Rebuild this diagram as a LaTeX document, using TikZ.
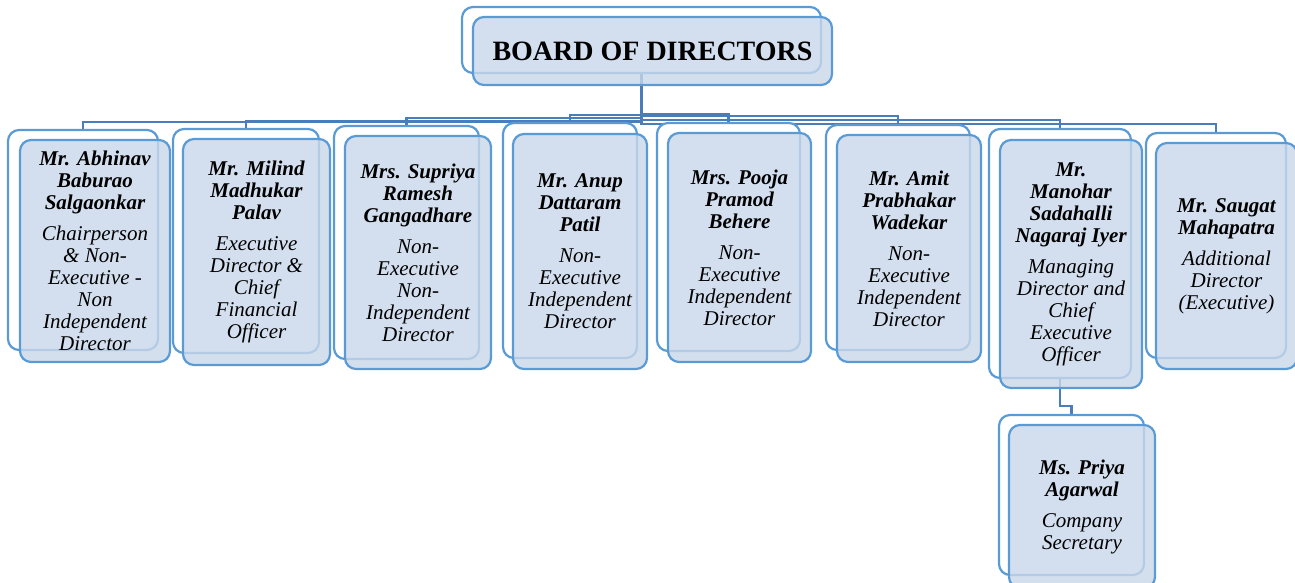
\documentclass[tikz,border=0pt]{standalone}
\usepackage{fontspec}
\setmainfont{Liberation Serif}
\usetikzlibrary{backgrounds}
\definecolor{boxline}{HTML}{5B9BD5}
\definecolor{boxfill}{HTML}{C9D7EA}
\definecolor{linkcol}{HTML}{4A7EBB}
\newcommand{\nm}[1]{\textbf{#1}}

\begin{document}
\begin{tikzpicture}[x=1pt,y=-1pt,
    back node/.style={rectangle,rounded corners=11pt,draw=boxline,fill=white,line width=2.2pt,inner sep=0pt},
    main node/.style={rectangle,rounded corners=11pt,draw=boxline,fill=boxfill,fill opacity=0.8,text opacity=1,line width=2.2pt,inner sep=0pt,align=center,font=\itshape\fontsize{21}{22}\selectfont},
    link/.style={draw=linkcol,line width=2.2pt}]
  \clip (0,0) rectangle (1295,583);

  % board
  \node[back node,minimum width=359,minimum height=66] (rb) at (641.5,40) {};
  \node[main node,minimum width=359,minimum height=68,font=\bfseries\fontsize{28}{30}\selectfont] (r) at (652.5,51) {BOARD OF DIRECTORS};

  % directors
  \node[back node,minimum width=150,minimum height=220] (b1) at (83,240) {};
  \node[main node,minimum width=150,minimum height=222] (m1) at (95,251)
    {\nm{Mr. Abhinav}\\\nm{Baburao}\\\nm{Salgaonkar}\\[9pt]Chairperson\\\& Non-\\Executive -\\Non\\Independent\\Director};

  \node[back node,minimum width=146,minimum height=224] (b2) at (246,241) {};
  \node[main node,minimum width=147,minimum height=226] (m2) at (256.5,252)
    {\nm{Mr. Milind}\\\nm{Madhukar}\\\nm{Palav}\\[9pt]Executive\\Director \&\\Chief\\Financial\\Officer};

  \node[back node,minimum width=145,minimum height=233] (b3) at (406.5,242.5) {};
  \node[main node,minimum width=146,minimum height=233] (m3) at (418,252.5)
    {\nm{Mrs. Supriya}\\\nm{Ramesh}\\\nm{Gangadhare}\\[9pt]Non-\\Executive\\Non-\\Independent\\Director};

  \node[back node,minimum width=134,minimum height=235] (b4) at (570,240.5) {};
  \node[main node,minimum width=134,minimum height=235] (m4) at (580,251.5)
    {\nm{Mr. Anup}\\\nm{Dattaram}\\\nm{Patil}\\[9pt]Non-\\Executive\\Independent\\Director};

  \node[back node,minimum width=143,minimum height=228] (b5) at (728.5,237) {};
  \node[main node,minimum width=143,minimum height=229] (m5) at (739.5,247.5)
    {\nm{Mrs. Pooja}\\\nm{Pramod}\\\nm{Behere}\\[9pt]Non-\\Executive\\Independent\\Director};

  \node[back node,minimum width=144,minimum height=225] (b6) at (898,237.5) {};
  \node[main node,minimum width=144,minimum height=227] (m6) at (909,248.5)
    {\nm{Mr. Amit}\\\nm{Prabhakar}\\\nm{Wadekar}\\[9pt]Non-\\Executive\\Independent\\Director};

  \node[back node,minimum width=142,minimum height=249] (b7) at (1060,253.5) {};
  \node[main node,minimum width=142,minimum height=248] (m7) at (1071,264)
    {\nm{Mr.}\\\nm{Manohar}\\\nm{Sadahalli}\\\nm{Nagaraj Iyer}\\[9pt]Managing\\Director and\\Chief\\Executive\\Officer};

  \node[back node,minimum width=140,minimum height=225] (b8) at (1216,245.5) {};
  \node[main node,minimum width=141,minimum height=226] (m8) at (1226.5,256)
    {\nm{Mr. Saugat}\\\nm{Mahapatra}\\[9pt]Additional\\Director\\(Executive)};

  % secretary under the MD
  \node[back node,minimum width=145,minimum height=160] (b9) at (1071.5,495) {};
  \node[main node,minimum width=146,minimum height=163] (m9) at (1082,506.5)
    {\nm{Ms. Priya}\\\nm{Agarwal}\\[9pt]Company\\Secretary};

  % elbow connectors, kept behind the boxes
  \begin{scope}[on background layer]
    \draw[link] (rb.south) -- ++(0,48) -| (b1.north);
    \draw[link] (rb.south) -- ++(0,47) -| (b2.north);
    \draw[link] (rb.south) -- ++(0,44) -| (b3.north);
    \draw[link] (rb.south) -- ++(0,41) -| (b4.north);
    \draw[link] (rb.south) -- ++(0,40) -| (b5.north);
    \draw[link] (rb.south) -- ++(0,42) -| (b6.north);
    \draw[link] (rb.south) -- ++(0,46) -| (b7.north);
    \draw[link] (rb.south) -- ++(0,50) -| (b8.north);
    \draw[link] (b7.south) -- ++(0,27) -| (b9.north);
  \end{scope}
\end{tikzpicture}
\end{document}
